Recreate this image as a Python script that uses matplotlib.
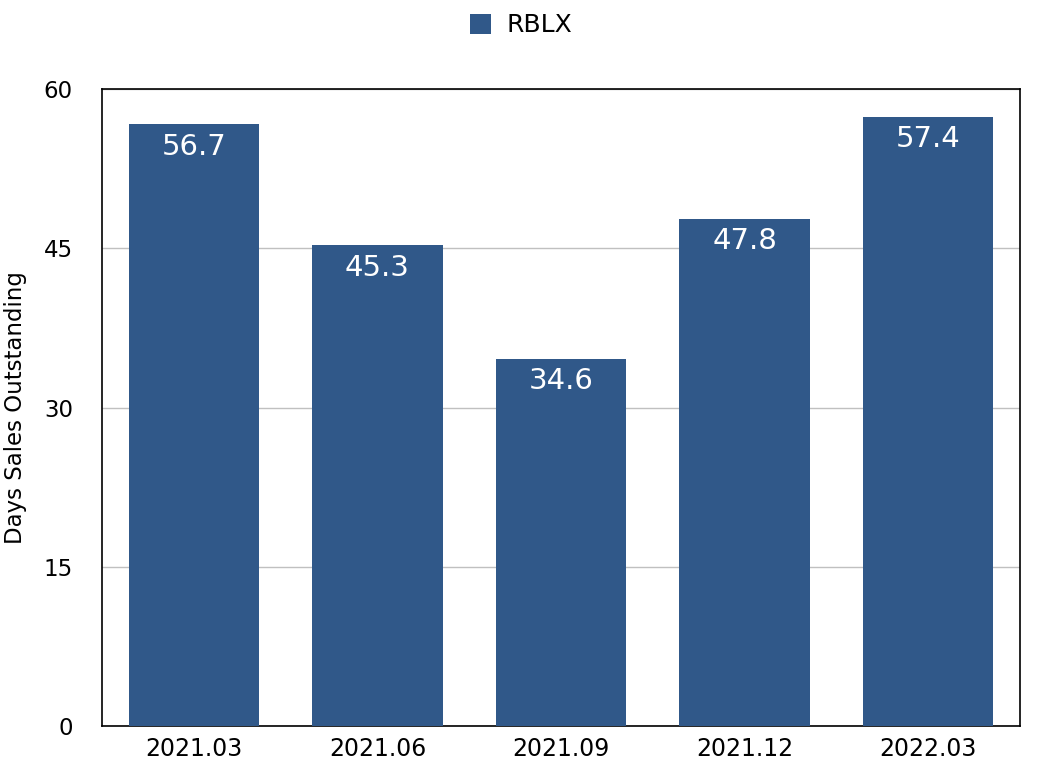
import matplotlib
matplotlib.use("Agg")
import matplotlib.pyplot as plt

quarters = ["2021.03", "2021.06", "2021.09", "2021.12", "2022.03"]
dso = [56.7, 45.3, 34.6, 47.8, 57.4]
bar_color = "#305889"

plt.rcParams['font.family'] = ['DejaVu Sans']

fig = plt.figure(figsize=(10.42, 7.76), dpi=100)
ax = fig.add_axes([0.0979, 0.0644, 0.881, 0.8206])

x = range(len(quarters))
bars = ax.bar(x, dso, width=0.71, color=bar_color, label="RBLX", zorder=3)
for b, v in zip(bars, dso):
    ax.text(b.get_x() + b.get_width() / 2, v - 0.8, "%.1f" % v,
            ha="center", va="top", color="white", fontsize=21, zorder=4)

ax.set_xlim(-0.5, len(quarters) - 0.5)
ax.set_ylim(0, 60)
ax.set_yticks([0, 15, 30, 45, 60])
ax.set_xticks(list(x))
ax.set_xticklabels(quarters)
ax.tick_params(axis="x", labelsize=17, length=0, pad=8)
ax.tick_params(axis="y", labelsize=16.5, length=0, pad=21)
ax.grid(axis="y", color="#c0c0c0", linewidth=1, zorder=0)
for s in ax.spines.values():
    s.set_color("black")
    s.set_linewidth(1.2)
ax.set_ylabel("Days Sales Outstanding", fontsize=16.5)
ax.yaxis.set_label_coords(-0.082, 0.5)

fig.legend(handles=[bars], labels=["RBLX"], loc="upper center",
           bbox_to_anchor=(0.5, 1.012), frameon=False, fontsize=18,
           handlelength=0.85, handleheight=0.85, handletextpad=0.6)

fig.savefig("out.png", dpi=100)
